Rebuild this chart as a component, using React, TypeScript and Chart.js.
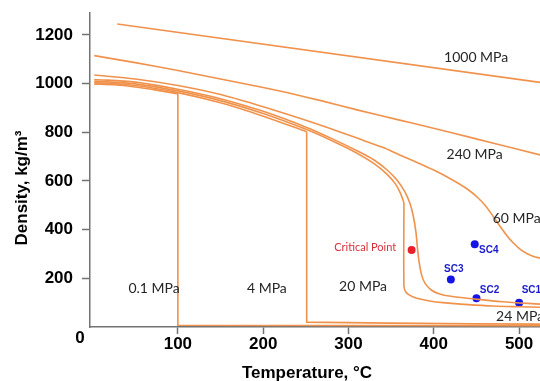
import React, { useEffect, useRef } from 'react';
import { Chart, registerables } from 'chart.js';

Chart.register(...registerables);

// ---- axis ticks ----
const xTicks = [100, 200, 300, 400, 500];
const yTicks = [200, 400, 600, 800, 1000, 1200];

// ---- isobars: [temperature °C, density kg/m3] ----
const isobar1000 = [[29, 1245], [524.5, 1005]];
const isobar240 = [[2, 1115], [50, 1086], [100, 1054], [150, 1019], [200, 984], [229, 962], [270, 928], [310, 892], [360, 850], [384, 830], [420, 799], [470, 755], [524.5, 707]];
const isobar60 = [[2, 1035], [50, 1019], [100, 992], [150, 955], [200, 905], [231, 871], [270, 826], [310, 776], [340, 738], [360, 707], [385, 669], [400, 645], [420, 608], [440, 565], [452, 530], [462, 492], [470, 452], [478, 412], [486, 374], [493, 346], [501, 320], [509, 302], [517, 290], [524.5, 283]];
const isobar24 = [[2, 1017], [50, 1006], [100, 977], [150, 938], [200, 886], [251, 820], [280, 775], [313, 719], [330, 686], [345, 646], [357, 603], [366, 556], [372, 508], [376, 455], [379, 392], [381, 320], [383, 262], [386, 210], [390, 178], [397, 152], [405, 138], [420, 126], [448, 115], [480, 104], [524.5, 94]];
const isobar20Liquid = [[2, 1010], [50, 999], [100, 970], [150, 930], [200, 877], [251, 811], [280, 766], [310, 714], [330, 671], [345, 628], [355, 588], [361, 549], [365, 510]];
const isobar20Vapor = [[365, 510], [365, 168], [367, 145], [372, 130], [380, 118], [395, 107], [411, 100], [440, 92], [470, 86], [500, 83], [524.5, 81]];
const isobar4Liquid = [[2, 1004], [50, 992], [100, 963], [150, 921], [200, 866], [251, 802]];
const isobar4Vapor = [[251, 802], [251, 20], [350, 16], [450, 13], [524.5, 12]];
const isobar01Liquid = [[2, 998], [25, 995], [50, 986], [75, 973], [100, 958]];
const isobar01Vapor = [[100, 958], [100, 7], [300, 6], [524.5, 5]];

// ---- marked states ----
const criticalPoint = [[374, 316]];
const scPoints = [[500, 100], [450, 118], [420, 195], [448, 340]];

// ---- text annotations (value-space anchors) ----
const pressureNotes = [
  { text: '1000 MPa', x: 412, y: 1108 },
  { text: '240 MPa', x: 415, y: 709 },
  { text: '60 MPa', x: 469, y: 444 },
  { text: '24 MPa', x: 473, y: 45 },
  { text: '20 MPa', x: 289, y: 168 },
  { text: '4 MPa', x: 181, y: 159 },
  { text: '0.1 MPa', x: 42, y: 159 },
];
const scNotes = [
  { text: 'SC1', x: 503, y: 149 },
  { text: 'SC2', x: 454, y: 149 },
  { text: 'SC3', x: 412, y: 237 },
  { text: 'SC4', x: 453, y: 315 },
];
const criticalNote = { text: 'Critical Point', x: 356, y: 325 };

const ORANGE = '#F0924C';
const toXY = (arr: number[][]) => arr.map(([x, y]) => ({ x, y }));

const lineDs = (data: number[][], tension: number) => ({
  data: toXY(data),
  showLine: true,
  borderColor: ORANGE,
  backgroundColor: ORANGE,
  borderWidth: 1.6,
  pointRadius: 0,
  tension,
  fill: false,
});

const textPlugin = {
  id: 'textPlugin',
  afterDatasetsDraw(chart: any) {
    const { ctx, scales, chartArea } = chart;
    const xs = scales.x;
    const ys = scales.y;
    ctx.save();
    ctx.textBaseline = 'middle';
    ctx.textAlign = 'left';
    ctx.fillStyle = '#262626';
    ctx.font = '14px Lato, "Liberation Sans", sans-serif';
    pressureNotes.forEach((n) => {
      ctx.fillText(n.text, xs.getPixelForValue(n.x), ys.getPixelForValue(n.y));
    });
    ctx.fillStyle = '#1a1acc';
    ctx.font = 'bold 10px "Liberation Sans", Arial, sans-serif';
    scNotes.forEach((n) => {
      ctx.fillText(n.text, xs.getPixelForValue(n.x), ys.getPixelForValue(n.y));
    });
    ctx.fillStyle = '#d8303c';
    ctx.font = '11px Lato, "Liberation Sans", sans-serif';
    ctx.textAlign = 'right';
    ctx.fillText(criticalNote.text, xs.getPixelForValue(criticalNote.x), ys.getPixelForValue(criticalNote.y));

    // corner zero, axis titles
    ctx.fillStyle = '#000';
    ctx.textAlign = 'center';
    ctx.font = 'bold 17px "Liberation Sans", Arial, sans-serif';
    ctx.fillText('0', chartArea.left - 10, chartArea.bottom + 11);
    ctx.fillText('Temperature, °C', 307, 373);
    ctx.translate(22, 188);
    ctx.rotate(-Math.PI / 2);
    ctx.fillText('Density, kg/m³', 0, 0);
    ctx.restore();
  },
};

export default function App() {
  const ref = useRef<HTMLCanvasElement>(null);
  useEffect(() => {
    const canvas = ref.current;
    if (!canvas) return;
    const axisColor = '#737373';
    const tickFont = { family: '"Liberation Sans", Arial, sans-serif', size: 17, weight: 'bold' };
    const chart = new Chart(canvas, {
      type: 'scatter',
      data: {
        datasets: [
          lineDs(isobar1000, 0),
          lineDs(isobar240, 0.3),
          lineDs(isobar60, 0.3),
          lineDs(isobar24, 0.3),
          lineDs(isobar20Liquid, 0.3),
          lineDs(isobar20Vapor, 0.3),
          lineDs(isobar4Liquid, 0.3),
          lineDs(isobar4Vapor, 0),
          lineDs(isobar01Liquid, 0.3),
          lineDs(isobar01Vapor, 0),
          {
            data: toXY(criticalPoint),
            pointRadius: 4,
            pointBackgroundColor: '#e8202a',
            pointBorderColor: '#e8202a',
            pointBorderWidth: 0,
            showLine: false,
          },
          {
            data: toXY(scPoints),
            pointRadius: 4,
            pointBackgroundColor: '#1414e6',
            pointBorderColor: '#1414e6',
            pointBorderWidth: 0,
            showLine: false,
          },
        ] as any,
      },
      options: {
        animation: false,
        responsive: false,
        layout: { autoPadding: false, padding: { top: 13, right: 0, bottom: 0, left: 0 } },
        plugins: { legend: { display: false }, tooltip: { enabled: false } },
        scales: {
          x: {
            type: 'linear',
            min: -3,
            max: 524.5,
            afterBuildTicks: (s: any) => {
              s.ticks = xTicks.map((v) => ({ value: v }));
            },
            afterFit: (s: any) => {
              s.height = 54;
              s.paddingLeft = 0;
              s.paddingRight = 0;
            },
            grid: { drawOnChartArea: false, drawTicks: true, tickLength: 7, tickColor: axisColor, tickWidth: 1.5 },
            border: { color: axisColor, width: 1.5 },
            ticks: {
              padding: 0,
              color: '#000',
              font: tickFont,
              maxRotation: 0,
              callback: (v: any) => String(v),
            },
          },
          y: {
            type: 'linear',
            min: 0,
            max: 1290,
            afterBuildTicks: (s: any) => {
              s.ticks = yTicks.map((v) => ({ value: v }));
            },
            afterFit: (s: any) => {
              s.width = 90;
              s.paddingTop = 0;
              s.paddingBottom = 0;
            },
            grid: { drawOnChartArea: false, drawTicks: true, tickLength: 8, tickColor: axisColor, tickWidth: 1.5 },
            border: { color: axisColor, width: 1.5 },
            ticks: {
              padding: 9,
              color: '#000',
              font: tickFont,
              callback: (v: any) => String(v),
            },
          },
        },
      } as any,
      plugins: [textPlugin],
    });
    return () => chart.destroy();
  }, []);
  return (
    <div style={{ position: 'fixed', left: 0, top: 0, width: 540, height: 381, background: '#fff' }}>
      <canvas ref={ref} width={540} height={381} />
    </div>
  );
}
